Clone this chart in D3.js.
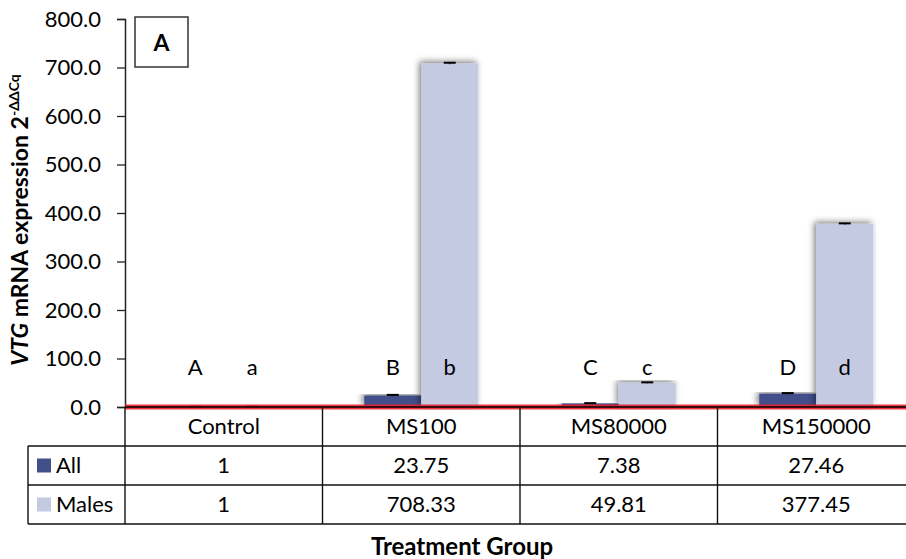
<!DOCTYPE html>
<html>
<head>
<meta charset="utf-8">
<script src="https://cdn.jsdelivr.net/npm/d3@7"></script>
<style>
  html, body { margin: 0; padding: 0; background: #fff; }
  svg { display: block; font-family: Lato, "Open Sans", sans-serif; }
</style>
</head>
<body>
<svg id="chart" width="906" height="559"></svg>
<script>
// Treatment groups and relative VTG expression (2^-ΔΔCq)
const categories = ["Control", "MS100", "MS80000", "MS150000"];
const seriesNames = ["All", "Males"];
const allValues = [1, 23.75, 7.38, 27.46];
const maleValues = [1, 708.33, 49.81, 377.45];
const allErrors = [0.1, 1.2, 0.6, 1.2];
const maleErrors = [0.1, 1.5, 1.0, 1.2];
const allLetters = ["A", "B", "C", "D"];
const maleLetters = ["a", "b", "c", "d"];
const yTicks = [0, 100, 200, 300, 400, 500, 600, 700, 800];
const panelLabel = "A";

const colors = { All: "#42508a", Males: "#c5cae3" };

const svg = d3.select("#chart");
const plotLeft = 125, plotRight = 915, plotTop = 19, plotBottom = 407;
const tableLeft = 28;
const rowLines = [446, 485, 524];

const x = d3.scaleBand().domain(categories).range([plotLeft, plotRight]).paddingInner(0).paddingOuter(0);
const barW = 57;
const y = d3.scaleLinear().domain([0, 800]).range([plotBottom, plotTop]);

// Soft shadow behind the bars
const defs = svg.append("defs");
const f = defs.append("filter").attr("id", "barShadow")
  .attr("x", "-30%").attr("y", "-10%").attr("width", "160%").attr("height", "120%");
f.append("feDropShadow").attr("dx", -2).attr("dy", -2).attr("stdDeviation", 3)
  .attr("flood-color", "#000").attr("flood-opacity", 0.5);

// Y axis
const yAxis = d3.axisLeft(y).tickValues(yTicks).tickFormat(d3.format(".1f")).tickSize(8).tickPadding(16);
const gy = svg.append("g").attr("transform", `translate(${plotLeft},0)`).call(yAxis);
gy.select(".domain").attr("stroke", "#222").attr("stroke-width", 1.5);
gy.selectAll(".tick line").attr("stroke", "#222").attr("stroke-width", 1.3);
gy.selectAll(".tick text").attr("font-size", 22).attr("fill", "#000").attr("font-family", "Lato, sans-serif");

// Bars
const data = categories.map((c, i) => ({
  cat: c,
  bars: [
    { s: "All", v: allValues[i], e: allErrors[i], letter: allLetters[i] },
    { s: "Males", v: maleValues[i], e: maleErrors[i], letter: maleLetters[i] }
  ]
}));

const groups = svg.append("g").selectAll("g.grp").data(data).join("g").attr("class", "grp");
const barX = (d, b, j) => x(d.cat) + x.bandwidth() / 2 + (j - 1) * barW;

groups.each(function (d) {
  const g = d3.select(this);
  d.bars.forEach((b, j) => {
    const bx = barX(d, b, j);
    g.append("rect")
      .attr("x", bx).attr("width", barW)
      .attr("y", y(b.v)).attr("height", y(0) - y(b.v))
      .attr("fill", colors[b.s])
      .attr("filter", "url(#barShadow)");
  });
  d.bars.forEach((b, j) => {
    const cx = barX(d, b, j) + barW / 2;
    // error bar with caps
    g.append("line").attr("x1", cx).attr("x2", cx)
      .attr("y1", y(b.v + b.e)).attr("y2", y(b.v - b.e)).attr("stroke", "#000").attr("stroke-width", 1.2);
    g.append("line").attr("x1", cx - 6).attr("x2", cx + 6)
      .attr("y1", y(b.v + b.e)).attr("y2", y(b.v + b.e)).attr("stroke", "#000").attr("stroke-width", 2);
    // significance letters
    g.append("text").attr("x", cx).attr("y", 375)
      .attr("text-anchor", "middle").attr("font-size", 22).attr("fill", "#000").text(b.letter);
  });
});

// Zero baseline highlighted in red
svg.append("line").attr("x1", plotLeft).attr("x2", 906).attr("y1", plotBottom).attr("y2", plotBottom)
  .attr("stroke", "#e8202a").attr("stroke-width", 5).attr("stroke-opacity", 0.9);
svg.append("line").attr("x1", plotLeft).attr("x2", 906).attr("y1", plotBottom).attr("y2", plotBottom)
  .attr("stroke", "#000").attr("stroke-width", 1.5);

// Data table below the axis
const table = svg.append("g").attr("stroke", "#111").attr("stroke-width", 1.4);
rowLines.forEach(ly => {
  table.append("line").attr("x1", tableLeft).attr("x2", 906).attr("y1", ly).attr("y2", ly);
});
table.append("line").attr("x1", tableLeft).attr("x2", tableLeft).attr("y1", rowLines[0]).attr("y2", rowLines[2]);
table.append("line").attr("x1", plotLeft).attr("x2", plotLeft).attr("y1", plotBottom).attr("y2", rowLines[2]);
categories.slice(1).forEach(c => {
  table.append("line").attr("x1", x(c)).attr("x2", x(c)).attr("y1", plotBottom).attr("y2", rowLines[2]);
});

const rowCenters = [(plotBottom + rowLines[0]) / 2, (rowLines[0] + rowLines[1]) / 2, (rowLines[1] + rowLines[2]) / 2];
const txt = svg.append("g").attr("font-size", 22).attr("fill", "#000");
categories.forEach((c, i) => {
  const cx = x(c) + x.bandwidth() / 2;
  txt.append("text").attr("x", cx).attr("y", rowCenters[0]).attr("dy", "0.35em").attr("text-anchor", "middle").text(c);
  txt.append("text").attr("x", cx).attr("y", rowCenters[1]).attr("dy", "0.35em").attr("text-anchor", "middle").text(String(allValues[i]));
  txt.append("text").attr("x", cx).attr("y", rowCenters[2]).attr("dy", "0.35em").attr("text-anchor", "middle").text(String(maleValues[i]));
});

// Legend keys inside the table
seriesNames.forEach((s, i) => {
  const cy = rowCenters[i + 1];
  svg.append("rect").attr("x", 37).attr("y", cy - 7).attr("width", 14).attr("height", 14).attr("fill", colors[s]);
  svg.append("text").attr("x", 56).attr("y", cy).attr("dy", "0.35em").attr("font-size", 22).text(s);
});

// Axis titles
svg.append("text").attr("x", 462).attr("y", 555).attr("text-anchor", "middle")
  .attr("font-size", 24).attr("font-weight", "bold").text("Treatment Group");

const yt = svg.append("text").attr("transform", "translate(28,220) rotate(-90)")
  .attr("text-anchor", "middle").attr("font-size", 23).attr("font-weight", "bold");
yt.append("tspan").attr("font-style", "italic").text("VTG");
yt.append("tspan").text(" mRNA expression 2");
yt.append("tspan").attr("font-size", 14).attr("dy", -9).text("-ΔΔCq");

// Panel label box
svg.append("rect").attr("x", 135).attr("y", 17).attr("width", 53).attr("height", 50)
  .attr("fill", "#fff").attr("stroke", "#333").attr("stroke-width", 1.5);
svg.append("text").attr("x", 161.5).attr("y", 43).attr("dy", "0.35em").attr("text-anchor", "middle")
  .attr("font-size", 23).attr("font-weight", "bold").text(panelLabel);
</script>
</body>
</html>
